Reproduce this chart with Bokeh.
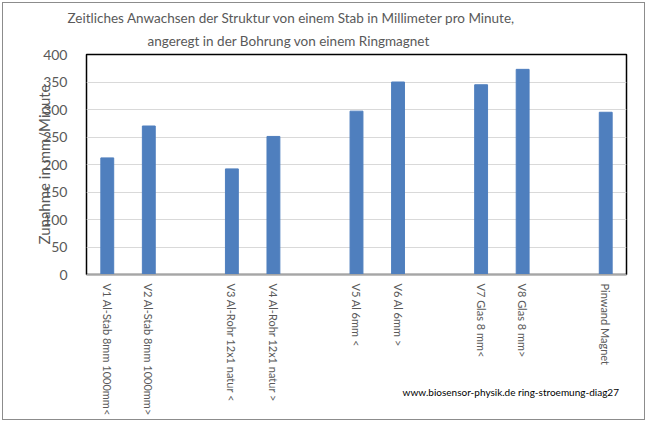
import math
from bokeh.plotting import figure
from bokeh.models import (ColumnDataSource, Range1d, FactorRange, Title, CategoricalAxis,
                          SingleIntervalTicker)
from bokeh.embed import file_html
from bokeh.resources import INLINE

# ---- data ----
categories = [
    "V1 Al-Stab 8mm 1000mm<",
    "V2 Al-Stab 8mm 1000mm>",
    " ",
    "V3 Al-Rohr 12x1 natur <",
    "V4 Al-Rohr 12x1 natur >",
    "  ",
    "V5 Al 6mm <",
    "V6 Al 6mm >",
    "   ",
    "V7 Glas 8 mm<",
    "V8 Glas 8 mm>",
    "    ",
    "Pinwand Magnet",
]
bar_categories = [
    "V1 Al-Stab 8mm 1000mm<",
    "V2 Al-Stab 8mm 1000mm>",
    "V3 Al-Rohr 12x1 natur <",
    "V4 Al-Rohr 12x1 natur >",
    "V5 Al 6mm <",
    "V6 Al 6mm >",
    "V7 Glas 8 mm<",
    "V8 Glas 8 mm>",
    "Pinwand Magnet",
]
values = [212, 270, 192, 251, 297, 350, 345, 373, 295]

title_line1 = "Zeitliches Anwachsen der Struktur von einem Stab in Millimeter pro Minute,"
title_line2 = "angeregt in der Bohrung von einem Ringmagnet"
y_label = "Zunahme in mm/Minute"
footer = "www.biosensor-physik.de ring-stroemung-diag27"

FONT = "Lato"
GRAY = "#595959"

# footer row: slot 6 of 7 carries the footer text, the others are blank
footer_slots = [" ", "  ", "   ", "    ", "     ", footer, "      "]

src = ColumnDataSource(dict(x=bar_categories, top=values))

p = figure(
    frame_width=540, frame_height=220,
    x_range=FactorRange(*categories, range_padding=0),
    y_range=Range1d(0, 400),
    output_backend="svg", toolbar_location=None,
    min_border_left=86, min_border_right=21, min_border_top=54, min_border_bottom=148,
    styles={"outline": "1px solid #8C8C8C", "outline-offset": "-3px"},
)
p.border_fill_color = None
p.background_fill_color = "white"
p.x_range.factor_padding = 0
p.vbar(x="x", top="top", width=0.31, source=src, color="#4F7FBE")

p.outline_line_color = "black"
p.outline_line_width = 1.5

p.xgrid.grid_line_color = None
p.ygrid.grid_line_color = "#D9D9D9"
p.ygrid.ticker = SingleIntervalTicker(interval=50)

p.yaxis.ticker = SingleIntervalTicker(interval=50)
p.yaxis.axis_line_color = None
p.yaxis.major_tick_line_color = None
p.yaxis.minor_tick_line_color = None
p.yaxis.major_label_standoff = 13
p.yaxis.major_label_text_font = FONT
p.yaxis.major_label_text_font_size = "14px"
p.yaxis.major_label_text_color = GRAY
p.yaxis.axis_label = y_label
p.yaxis.axis_label_standoff = -13
p.yaxis.axis_label_text_font = FONT
p.yaxis.axis_label_text_font_size = "15px"
p.yaxis.axis_label_text_font_style = "normal"
p.yaxis.axis_label_text_color = GRAY

p.xaxis.axis_line_color = "#A6A6A6"
p.xaxis.major_tick_line_color = None
p.xaxis.minor_tick_line_color = None
p.xaxis.major_label_orientation = -math.pi / 2
p.xaxis.major_label_standoff = 3
p.xaxis.major_label_text_font = FONT
p.xaxis.major_label_text_font_size = "11px"
p.xaxis.major_label_text_color = GRAY

# footer as a label of an extra categorical axis below
p.extra_x_ranges = {"foot": FactorRange(*footer_slots, range_padding=0)}
foot_axis = CategoricalAxis(x_range_name="foot")
foot_axis.axis_line_color = None
foot_axis.major_tick_line_color = None
foot_axis.minor_tick_line_color = None
foot_axis.major_label_standoff = -39
foot_axis.major_label_text_font = FONT
foot_axis.major_label_text_font_size = "10px"
foot_axis.major_label_text_color = "black"
p.add_layout(foot_axis, "below")

# titles (line 2 first: closest to the frame)
p.add_layout(Title(text=title_line2, align="left", offset=61, standoff=11,
                   text_font=FONT, text_font_size="13.5px", text_font_style="normal",
                   text_color=GRAY), "above")
p.add_layout(Title(text=title_line1, align="left", offset=-19, standoff=0,
                   text_font=FONT, text_font_size="13.5px", text_font_style="normal",
                   text_color=GRAY), "above")

open("out.html", "w").write(file_html(p, INLINE))
